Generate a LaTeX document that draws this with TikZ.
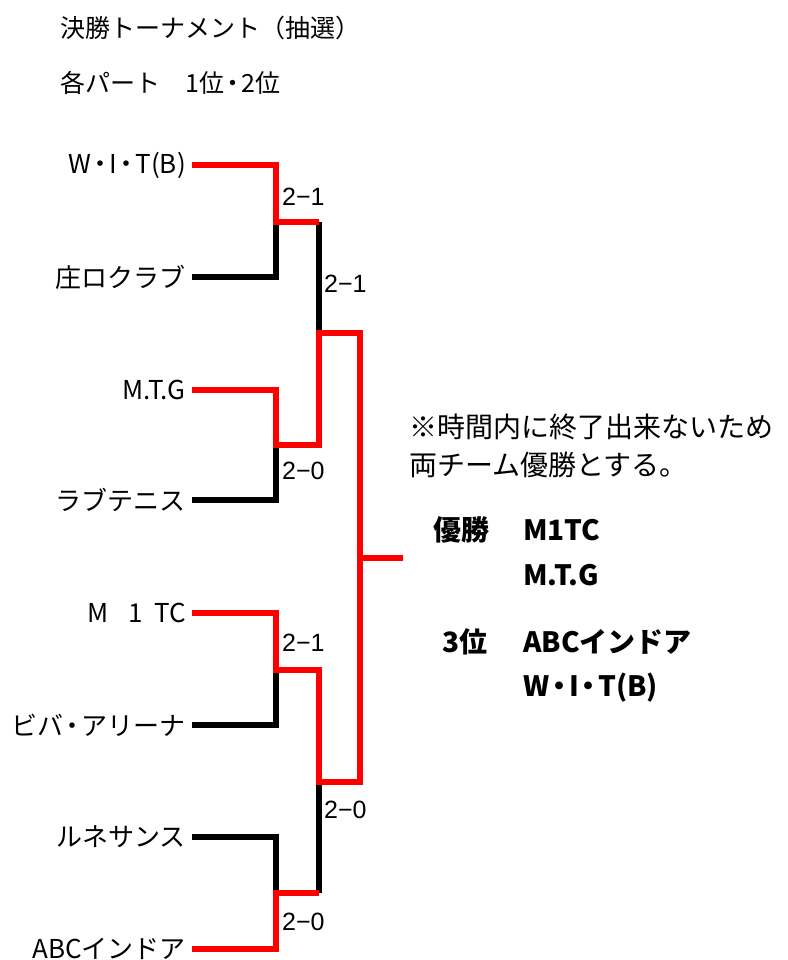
\documentclass[tikz,border=0pt]{standalone}
\usepackage{fontspec}
\setmainfont{Noto Sans CJK JP}
\newfontfamily\scorefont{Liberation Sans}
\newcommand{\nakaguro}{\kern-0.15em・\kern-0.15em}
\begin{document}
\begin{tikzpicture}[x=1pt,y=-1pt,
  team/.style={anchor=east, inner sep=0pt, font=\fontsize{26}{30}\selectfont},
  score/.style={anchor=west, inner sep=0pt, font=\scorefont\fontsize{25}{28}\selectfont},
  head/.style={anchor=west, inner sep=0pt, font=\fontsize{25}{28}\selectfont},
  note/.style={anchor=west, inner sep=0pt, font=\fontsize{28}{30}\selectfont},
  res/.style={anchor=west, inner sep=0pt, font=\bfseries\fontsize{28}{30}\selectfont},
  win/.style={draw=red, line width=6.5pt, line join=miter},
  lose/.style={draw=black, line width=6.5pt, line join=miter}]
\useasboundingbox (0,0) rectangle (787,960);

% headings
\node[head] (h1) at (60,28) {決勝トーナメント（抽選）};
\node[head] (h2) at (60,83) {各パート　1位\nakaguro 2位};

% teams
\node[team] (t1) at (186,165) {W\nakaguro I\nakaguro T(B)};
\node[team] (t2) at (186,277) {庄ロクラブ};
\node[team] (t3) at (186,390) {M.T.G};
\node[team] (t4) at (186,500) {ラブテニス};
\node[team] (t5) at (186,613) {M\hspace{0.75em}1\hspace{0.45em}TC};
\node[team] (t6) at (186,725) {ビバ\nakaguro アリーナ};
\node[team] (t7) at (186,837) {ルネサンス};
\node[team] (t8) at (186,949) {ABCインドア};

% line starts
\foreach \i in {1,...,8} {\coordinate (p\i) at ([xshift=6pt]t\i.east);}

% junctions
\coordinate (a1) at (276,222);
\coordinate (a2) at (276,445);
\coordinate (a3) at (276,670);
\coordinate (a4) at (276,893);
\coordinate (b1top) at (319,222);
\coordinate (b1bot) at (319,445);
\coordinate (b1) at (319,333);
\coordinate (b2top) at (319,670);
\coordinate (b2bot) at (319,893);
\coordinate (b2) at (319,782);
\coordinate (c1) at (360,333);
\coordinate (c2) at (360,782);
\coordinate (f) at (360,558);
\coordinate (fend) at (403,558);

% losing lines
\draw[lose] (p2) -| (a1);
\draw[lose] (p4) -| (a2);
\draw[lose] (p6) -| (a3);
\draw[lose] (p7) -| (a4);
\draw[lose] (b1top) -- (b1);
\draw[lose] (b2bot) -- (b2);

% winning lines
\draw[win] (p1) -| (a1) -- (b1top);
\draw[win] (p8) -| (a4) -- (b2bot);
\draw[win] (p3) -| (a2) -- (b1bot) -- (b1) -- (c1) -- (c2) -- (b2) -- (b2top) -- (a3) |- (p5);
\draw[win] (f) -- (fend);

% scores
\node[score] (s1) at (282,197) {2−1};
\node[score] (s2) at (324,284) {2−1};
\node[score] (s3) at (282,471) {2−0};
\node[score] (s4) at (282,643) {2−1};
\node[score] (s5) at (324,810) {2−0};
\node[score] (s6) at (282,922) {2−0};

% note and results
\node[note] (n1) at (409,427) {※時間内に終了出来ないため};
\node[note] (n2) at (409,465) {両チーム優勝とする。};
\node[res] (r1) at (433,530) {優勝};
\node[res] (r2) at (523,530) {M1TC};
\node[res] (r3) at (523,575) {M.T.G};
\node[res] (r4) at (442,642) {3位};
\node[res] (r5) at (523,642) {ABCインドア};
\node[res] (r6) at (523,688) {W\nakaguro I\nakaguro T(B)};
\end{tikzpicture}
\end{document}
